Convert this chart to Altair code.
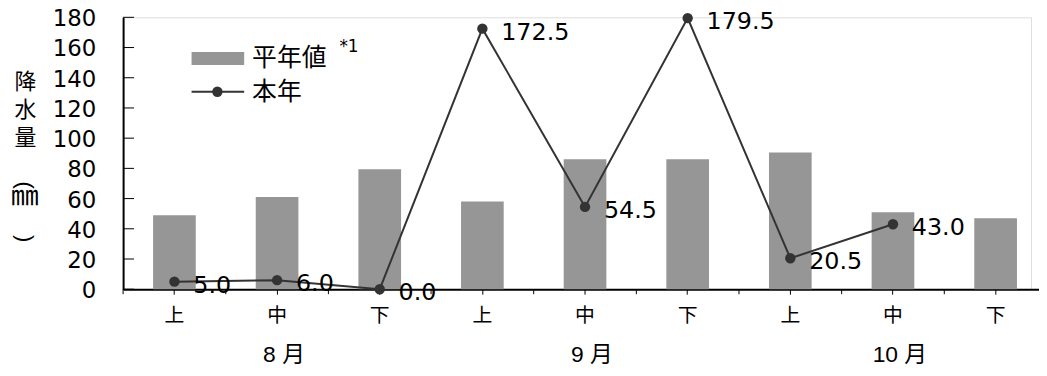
import altair as alt
import pandas as pd

# ---- data ----
months = ["8 月", "9 月", "10 月"]
periods = ["上", "中", "下"]
normal = [49.0, 61.0, 79.5, 58.0, 86.0, 86.0, 90.5, 51.0, 47.0]
this_year = [5.0, 6.0, 0.0, 172.5, 54.5, 179.5, 20.5, 43.0, None]
y_ticks = [0, 20, 40, 60, 80, 100, 120, 140, 160, 180]
legend_labels = ["平年値", "本年"]
legend_note = "*1"
y_title = ["降", "水", "量"]
y_unit = ["(", "㎜", ")"]

keys = [f"{m}{p}" for m in months for p in periods]
df = pd.DataFrame({
    "key": keys,
    "month": [m for m in months for _ in periods],
    "period": [p for _ in months for p in periods],
    "normal": normal,
    "this_year": this_year,
})
month_df = pd.DataFrame({"key": [f"{m}中" for m in months], "month": months})
tick_df = pd.DataFrame({"v": y_ticks})

# ---- layout constants ----
W, H = 915, 274
RANGE = 931
STEP = RANGE / len(keys)
BAR_W = 43
P_IN = 1 - BAR_W / STEP
LATIN = "Liberation Sans"
NUM = "DejaVu Sans"
CJK = "Noto Sans CJK JP"
MIXED = "Liberation Sans, Noto Sans CJK JP"

xscale = alt.Scale(domain=keys, range=[0, RANGE], paddingInner=P_IN, paddingOuter=P_IN / 2)
yscale = alt.Scale(domain=[0, 180], nice=False)

x_enc = alt.X("key:N", scale=xscale, sort=keys,
              axis=alt.Axis(title=None,
                            labelExpr="substring(datum.label, length(datum.label) - 1)"))
y_enc = alt.Y("normal:Q", scale=yscale,
              axis=alt.Axis(values=y_ticks, title=y_title, labels=False))

base = alt.Chart(df)

bars = base.mark_bar(color="#969696").encode(x=x_enc, y=y_enc)

line_src = base.transform_filter("isValid(datum.this_year)")
xs = alt.X("key:N", scale=xscale, sort=keys)
ys = alt.Y("this_year:Q", scale=yscale)
line = line_src.mark_line(color="#333333", strokeWidth=2).encode(x=xs, y=ys)
pts = line_src.mark_circle(color="#333333", size=110, opacity=1).encode(x=xs, y=ys)
labels = line_src.mark_text(align="left", baseline="middle", dx=19, dy=4,
                            font=NUM, fontSize=24, color="black").encode(
    x=xs, y=ys, text=alt.Text("this_year:Q", format=".1f"))

# inward y ticks and their labels
yticks = alt.Chart(tick_df).mark_rule(color="black", strokeWidth=1).encode(
    y=alt.Y("v:Q", scale=yscale), x=alt.value(0), x2=alt.value(11))
ylabels = alt.Chart(tick_df).mark_text(font=NUM, fontSize=23, align="right",
                                       baseline="middle", color="black", dy=2).encode(
    y=alt.Y("v:Q", scale=yscale), x=alt.value(-27), text=alt.Text("v:Q"))

# boundary ticks on the x axis
bticks = base.mark_rule(color="black", strokeWidth=1, xOffset=-STEP / 2).encode(
    x=xs, y=alt.value(H), y2=alt.value(H + 5))

# month labels
month_text = alt.Chart(month_df).mark_text(font=MIXED, fontSize=23, color="black",
                                           baseline="middle", align="center", dx=7).encode(
    x=xs, y=alt.value(H + 66), text="month:N")

# unit part of the y title, written vertically
one = alt.Data(values=[{}])
unit_open = alt.Chart(one).mark_text(font=LATIN, fontSize=22, angle=90, align="center",
                                     baseline="middle", color="black", text=y_unit[0]).encode(
    x=alt.value(-99), y=alt.value(169))
unit_mm = alt.Chart(one).mark_text(font=CJK, fontSize=28, align="center",
                                   baseline="middle", color="black", text=y_unit[1]).encode(
    x=alt.value(-99), y=alt.value(181))
unit_close = alt.Chart(one).mark_text(font=LATIN, fontSize=22, angle=90, align="center",
                                      baseline="middle", color="black", text=y_unit[2]).encode(
    x=alt.value(-99), y=alt.value(223))

# legend
leg_rect = alt.Chart(one).mark_rect(color="#969696").encode(
    x=alt.value(69), x2=alt.value(122), y=alt.value(35), y2=alt.value(48))
leg_rule = alt.Chart(one).mark_rule(color="#333333", strokeWidth=2).encode(
    x=alt.value(69), x2=alt.value(122), y=alt.value(75))
leg_pt = alt.Chart(one).mark_circle(color="#333333", size=110, opacity=1).encode(
    x=alt.value(95), y=alt.value(75))
leg_t1 = alt.Chart(one).mark_text(font=CJK, fontSize=25, align="left", baseline="middle",
                                  color="black", text=legend_labels[0]).encode(
    x=alt.value(130), y=alt.value(41))
leg_t2 = alt.Chart(one).mark_text(font=CJK, fontSize=25, align="left", baseline="middle",
                                  color="black", text=legend_labels[1]).encode(
    x=alt.value(130), y=alt.value(75))
leg_note = alt.Chart(one).mark_text(font=NUM, fontSize=17, align="left", baseline="middle",
                                    color="black", text=legend_note).encode(
    x=alt.value(218), y=alt.value(30))

chart = alt.layer(
    bars, line, pts, labels, yticks, ylabels, bticks, month_text,
    unit_open, unit_mm, unit_close,
    leg_rect, leg_rule, leg_pt, leg_t1, leg_t2, leg_note,
).properties(
    width=W, height=H,
    autosize=alt.AutoSizeParams(type="none"),
    padding={"left": 116, "top": 8, "right": 8, "bottom": 78},
).configure_view(stroke=None).configure(background="white").configure_axis(
    grid=False, domainColor="black", domainWidth=2, labelColor="black",
).configure_axisY(
    labels=False, ticks=False, tickSize=0,
    titleAngle=0, titleFont=CJK, titleFontSize=22, titleFontWeight="normal",
    titleColor="black", titleLineHeight=28, titleBaseline="top", titleAlign="center",
    titleX=-99, titleY=55,
).configure_axisX(
    labelAngle=0, labelFont=CJK, labelFontSize=20, labelPadding=12, tickSize=5,
    tickColor="black", tickWidth=1,
)

chart.save("out.html", embed_options={"renderer": "svg", "actions": False})
